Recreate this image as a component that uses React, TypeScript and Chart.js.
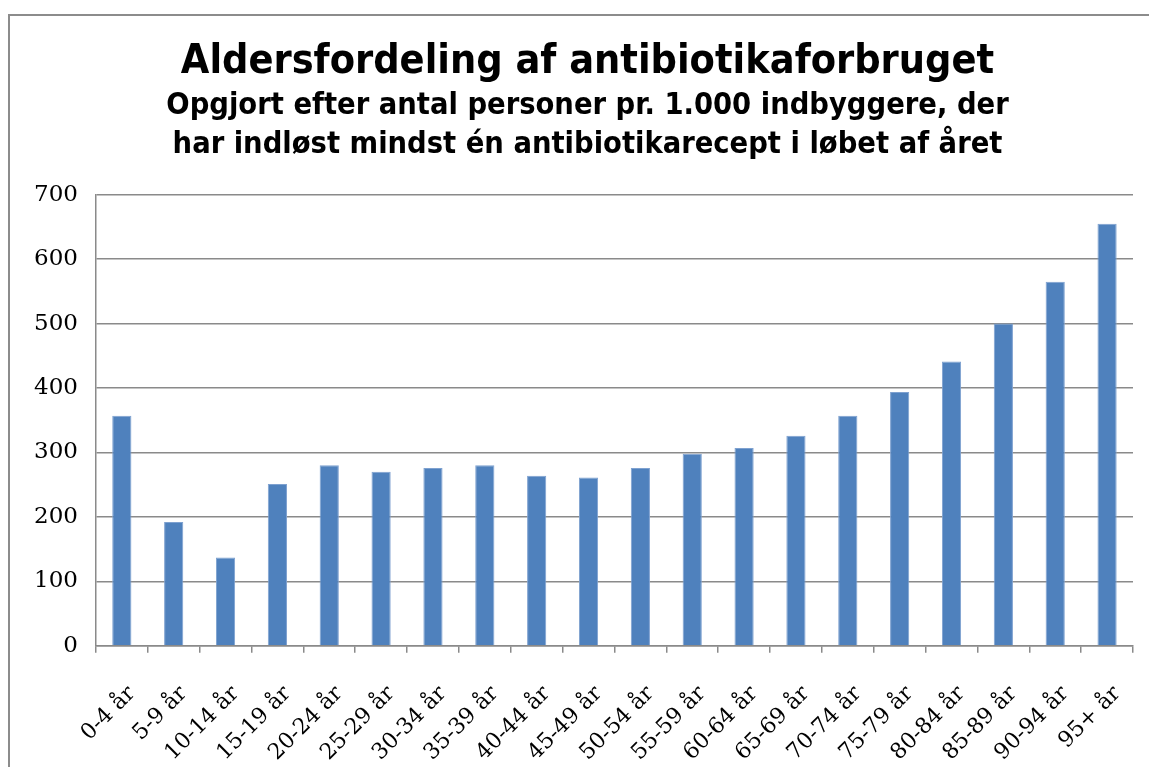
import React, { useEffect, useRef } from "react";
import { Chart, registerables } from "chart.js";

Chart.register(...registerables);

const categories = [
  "0-4 år", "5-9 år", "10-14 år", "15-19 år", "20-24 år", "25-29 år", "30-34 år",
  "35-39 år", "40-44 år", "45-49 år", "50-54 år", "55-59 år", "60-64 år", "65-69 år",
  "70-74 år", "75-79 år", "80-84 år", "85-89 år", "90-94 år", "95+ år",
];
const values = [
  357, 192, 137, 251, 280, 270, 276, 280, 264, 261, 276, 298, 307, 326, 357, 394, 441,
  500, 565, 655,
];
const titleText = "Aldersfordeling af antibiotikaforbruget";
const subtitleLines = [
  "Opgjort efter antal personer pr. 1.000 indbyggere, der",
  "har indløst mindst én antibiotikarecept i løbet af året",
];

const titleFont = "'Liberation Sans Narrow', 'DejaVu Sans Condensed', sans-serif";
const tickFont = "'DejaVu Serif', 'Liberation Serif', serif";

// Re-centre the title blocks over the full frame instead of the padded area
const centerTitles = {
  id: "centerTitles",
  afterLayout(chart: any) {
    const cls = chart.titleBlock ? chart.titleBlock.constructor : null;
    if (!cls) return;
    const shift = 13;
    chart.boxes.forEach((b: any) => {
      if (b instanceof cls) {
        b.left += shift;
        b.right += shift;
      }
    });
  },
};

export default function App() {
  const ref = useRef<HTMLCanvasElement | null>(null);
  useEffect(() => {
    if (!ref.current) return;
    const chart = new Chart(ref.current, {
      type: "bar",
      data: {
        labels: categories,
        datasets: [
          {
            data: values,
            backgroundColor: "#4F81BD",
            borderColor: "#7EA1D0",
            borderWidth: 1,
            categoryPercentage: 1,
            barPercentage: 0.37,
          },
        ],
      },
      plugins: [centerTitles],
      options: {
        animation: false,
        responsive: false,
        layout: { padding: { top: 22, right: 31, bottom: 8, left: 6 } },
        plugins: {
          legend: { display: false },
          tooltip: { enabled: false },
          title: {
            display: true,
            text: titleText,
            color: "#000",
            font: { family: titleFont, size: 41, weight: "bold" },
            padding: { top: 0, bottom: 0 },
          },
          subtitle: {
            display: true,
            text: subtitleLines,
            color: "#000",
            font: { family: titleFont, size: 30.5, weight: "bold", lineHeight: 1.27 },
            padding: { top: 0, bottom: 30 },
          },
        },
        scales: {
          y: {
            min: 0,
            max: 700,
            ticks: {
              stepSize: 100,
              color: "#000",
              font: { family: tickFont, size: 23 },
              padding: 18,
            },
            grid: { color: "#8a8a8a", lineWidth: 1.5, drawTicks: false },
            border: { color: "#8a8a8a", width: 1.5 },
          },
          x: {
            ticks: {
              color: "#000",
              font: { family: tickFont, size: 22 },
              minRotation: 45,
              maxRotation: 45,
              autoSkip: false,
              padding: 28,
              labelOffset: 10,
            },
            grid: {
              drawOnChartArea: false,
              drawTicks: true,
              tickLength: 7,
              color: "#8a8a8a",
              lineWidth: 1.5,
            },
            border: { color: "#8a8a8a", width: 1.5 },
          },
        },
      },
    });
    return () => chart.destroy();
  }, []);

  return (
    <div style={{ position: "fixed", left: 0, top: 0, width: 1149, height: 767, overflow: "hidden", background: "#fff" }}>
      <div
        style={{
          position: "absolute",
          left: 8,
          top: 14,
          width: 1158,
          height: 790,
          border: "2px solid #8c8c8c",
          boxSizing: "border-box",
        }}
      >
        <canvas ref={ref} width={1154} height={786} style={{ display: "block" }} />
      </div>
    </div>
  );
}
